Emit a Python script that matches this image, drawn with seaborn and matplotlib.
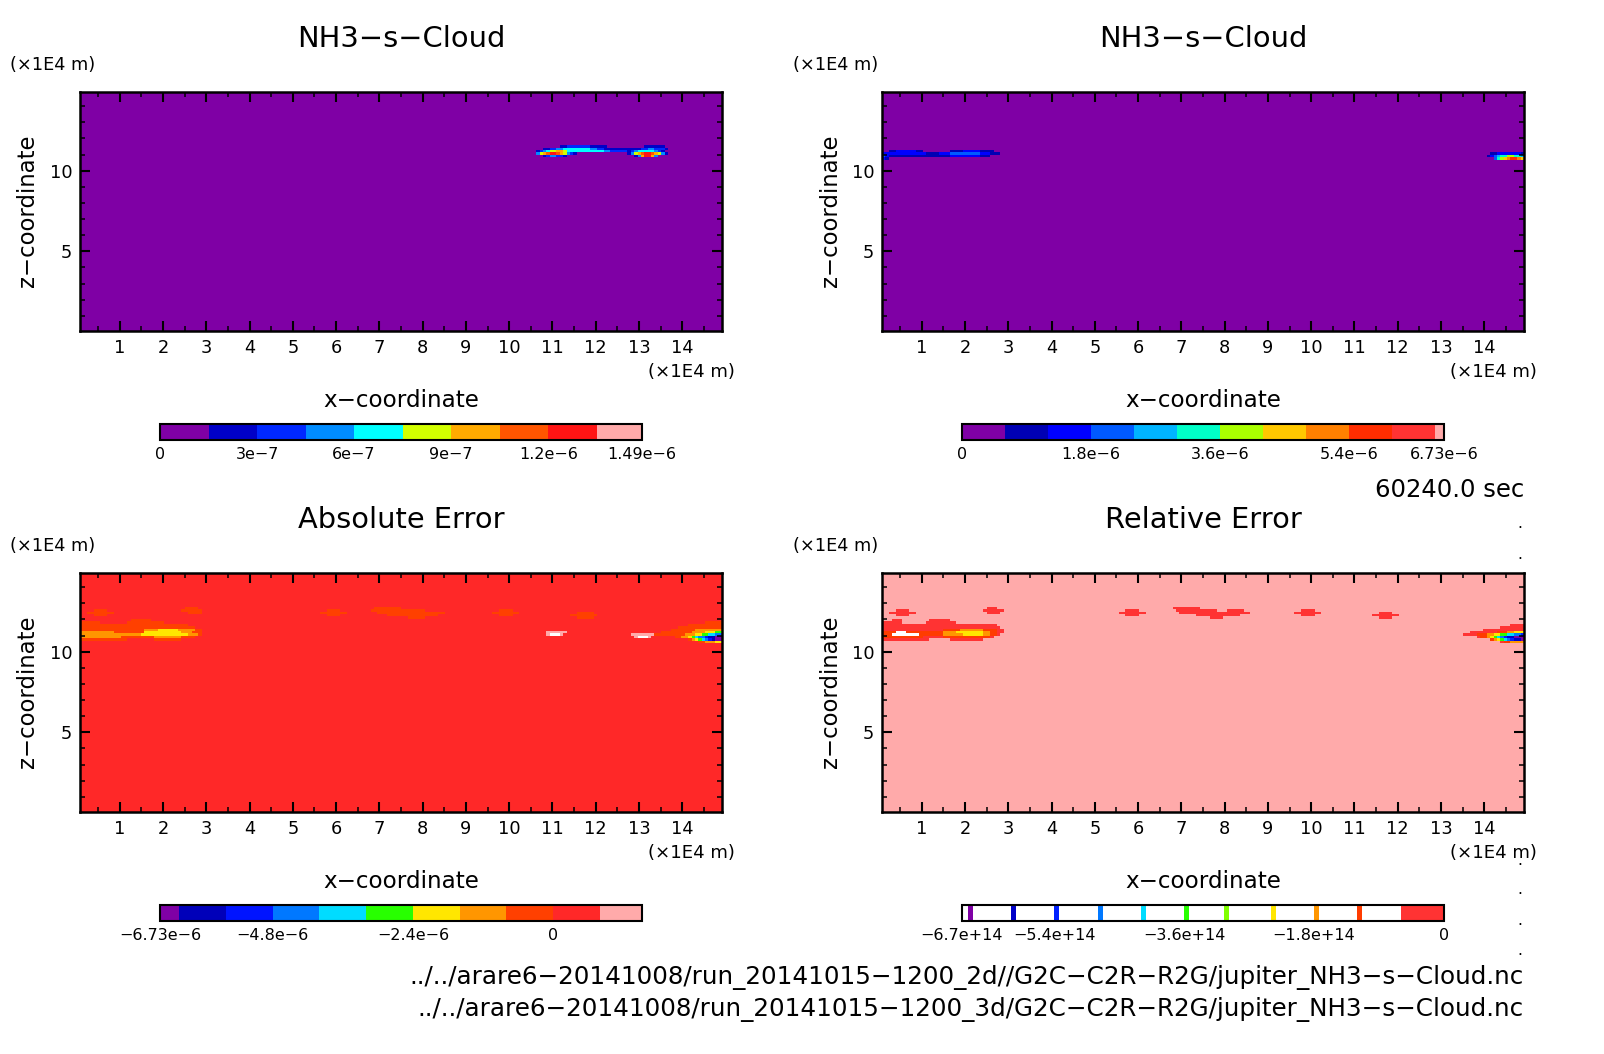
import numpy as np
import seaborn as sns
import matplotlib.pyplot as plt
from matplotlib.colors import ListedColormap, BoundaryNorm

sns.set_theme(style='white')
plt.rcParams['font.family'] = ['DejaVu Sans']

W, H = 1604, 1054

# domain of the model and size of the grid
x_min, x_max = 0.08, 14.92
z_min, z_max = 0.06, 14.88
n_cols, n_rows = 190, 99
x_ticks = list(range(1, 15))
z_ticks = [5, 10]
z_minor = list(range(1, 15))
x_minor = [i + 0.5 for i in range(0, 15)]

titles = ['NH3−s−Cloud', 'NH3−s−Cloud', 'Absolute Error', 'Relative Error']

# contour levels, colours and colourbar labels
levels_2d = [0, 1.5e-7, 3e-7, 4.5e-7, 6e-7, 7.5e-7, 9e-7, 1.05e-6, 1.2e-6, 1.35e-6, 1.49e-6]
colors_2d = ['#7F00A5', '#0000C8', '#0028FF', '#008CFF', '#00FFFF', '#D2FF00',
             '#FFAA00', '#FF5500', '#FF1414', '#FFAAAA']
ticks_2d = [0, 3e-7, 6e-7, 9e-7, 1.2e-6, 1.49e-6]
labels_2d = ['0', '3e−7', '6e−7', '9e−7', '1.2e−6', '1.49e−6']

levels_3d = [0, 6e-7, 1.2e-6, 1.8e-6, 2.4e-6, 3e-6, 3.6e-6, 4.2e-6, 4.8e-6, 5.4e-6, 6e-6, 6.6e-6, 6.73e-6]
colors_3d = ['#7F00A5', '#0000B4', '#0000FF', '#005AFF', '#00B4FF', '#00FFC8',
             '#AAFF00', '#FFC800', '#FF8000', '#FF2D00', '#FF3333', '#FFAAAA']
ticks_3d = [0, 1.8e-6, 3.6e-6, 5.4e-6, 6.73e-6]
labels_3d = ['0', '1.8e−6', '3.6e−6', '5.4e−6', '6.73e−6']

levels_abs = [-6.73e-6, -6.4e-6, -5.6e-6, -4.8e-6, -4e-6, -3.2e-6, -2.4e-6, -1.6e-6, -8e-7, 0, 8e-7, 1.52e-6]
colors_abs = ['#7F00A5', '#0000B9', '#0014FF', '#0078FF', '#00DCFF', '#28FF00',
              '#FFE600', '#FF9600', '#FF4000', '#FF2828', '#FFAAAA']
ticks_abs = [-6.73e-6, -4.8e-6, -2.4e-6, 0]
labels_abs = ['−6.73e−6', '−4.8e−6', '−2.4e−6', '0']

levels_rel = [-6.68e14, -6.6e14, -6.53e14, -6e14, -5.93e14, -5.4e14, -5.33e14, -4.8e14, -4.73e14,
              -4.2e14, -4.13e14, -3.6e14, -3.53e14, -3.05e14, -2.98e14, -2.4e14, -2.33e14,
              -1.8e14, -1.73e14, -1.2e14, -1.13e14, -6e13, 0]
colors_rel = ['white', '#7F00A5', 'white', '#0000C8', 'white', '#0020FF', 'white', '#0078FF',
              'white', '#00DCFF', 'white', '#28FF00', 'white', '#80FF00', 'white', '#FFE600',
              'white', '#FF9600', 'white', '#FF3C00', 'white', '#FF3333']
ticks_rel = [-6.68e14, -5.4e14, -3.6e14, -1.8e14, 0]
labels_rel = ['−6.7e+14', '−5.4e+14', '−3.6e+14', '−1.8e+14', '0']

# cells of each field that differ from the background: (row from top, first column, level codes)
cells_2d = [
    (22, 142, '11222222211111'), (22, 167, '111111'),
    (23, 137, '1122334444444433221111111111'), (23, 165, '122332221'),
    (24, 135, '123455665444444444443322222'), (24, 162, '12344444321'),
    (25, 135, '356788765321'), (25, 162, '135678876531'),
    (26, 137, '1233221'), (26, 164, '1368863'),
]
cells_3d = [
    (24, 2, '1122222211'), (24, 20, '1111222221111'),
    (25, 0, '22222222222221111222333333333222111'),
    (26, 0, '32111111111111111111222222222111'),
    (27, 0, '21'),
    (25, 180, '1122222221'), (26, 179, '12345566554'), (27, 181, '356789987'),
]
cells_abs = [
    (14, 31, '8888'), (15, 4, '8888'), (15, 30, '888888'), (16, 2, '88888888'), (16, 32, '8888'), (17, 4, '8888'),
    (15, 73, '8888'), (16, 71, '88888888'), (17, 73, '8888'),
    (14, 87, '88888888'), (15, 86, '8888888888888888'), (16, 88, '88888888888888888888'),
    (17, 91, '888888888888888'), (18, 97, '88888'),
    (15, 124, '8888'), (16, 122, '88888888'), (17, 124, '8888'),
    (16, 147, '88888'), (17, 145, '88888888'), (18, 147, '88888'),
    (19, 15, '888888'), (20, 0, '888888'), (20, 14, '88888888888'),
    (21, 0, '88888888888888888888888888888888'),
    (22, 0, '8888888888888888888888888888888888'),
    (23, 0, '888888888888888888877776666667777788'),
    (24, 0, '777777777788888888866666666666777888'),
    (25, 0, '777777777777777777666666666666667778'),
    (26, 0, '7777777777778888888888777777778888'),
    (27, 0, '88888888888888'), (27, 22, '88888888'),
    (24, 138, 'aaaaaa'), (25, 138, 'abbba'), (25, 163, 'aaaaaaa'), (26, 164, 'abbba'),
    (20, 185, '88888'), (21, 180, '8888888888'), (22, 177, '8888888888888'),
    (23, 175, '888888877777777'), (24, 172, '888888888777766655'),
    (25, 170, '88888888877766554433'), (26, 176, '88776543321100'),
    (27, 180, '8765432100'), (28, 183, '8877766'),
]
cells_rel = [
    (14, 31, 'lll'), (15, 4, 'llll'), (15, 30, 'llllll'), (16, 2, 'llllllll'), (16, 31, 'llll'), (17, 4, 'llll'),
    (15, 72, 'llll'), (16, 70, 'llllllll'), (17, 72, 'llll'),
    (14, 86, 'llllllll'), (15, 87, 'llllllllllll'), (15, 102, 'lllll'),
    (16, 88, 'lllllllllllllllllllll'), (17, 93, 'lllllllllllll'), (18, 97, 'llll'),
    (15, 124, 'llll'), (16, 122, 'llllllll'), (17, 124, 'llll'),
    (16, 147, 'llll'), (17, 145, 'llllllll'), (18, 147, 'llll'),
    (19, 3, 'lll'), (19, 14, 'llllll'), (20, 0, 'llllll'), (20, 13, 'lllllllll'),
    (21, 0, 'llllllllllllllllllllllllllllllllll'),
    (22, 0, 'lllllllllllllllllllllllllllllllllll'),
    (23, 0, 'lllllllllllllllllljjjjjhhhhhhhjjjjll'),
    (24, 0, 'jjjjkkkjjjjjjjjjjjhhhhffffffffhhjjll'),
    (25, 0, 'jjjkkkkkkkkjjjjjjjhhhhhhffffffhhjjl'),
    (26, 0, 'jjjjjjjjjjjjlllllljjjjjjjjjjjjjjl'),
    (27, 0, 'llllllllllllll'), (27, 20, 'llllllllll'),
    (21, 186, 'llll'), (22, 183, 'lllllll'), (23, 178, 'llllllllllll'),
    (24, 174, 'lllllllljjjhhfff'), (25, 172, 'lllljjjhhffbb9977533'),
    (26, 176, 'ljjhfb97533111'), (27, 180, 'jhfb975331'), (28, 183, 'ljjhhhh'),
]

# file names under the panels, and the loose text of the page
files = ['../../arare6−20141008/run_20141015−1200_2d//G2C−C2R−R2G/jupiter_NH3−s−Cloud.nc',
         '../../arare6−20141008/run_20141015−1200_3d/G2C−C2R−R2G/jupiter_NH3−s−Cloud.nc']
time_label = '60240.0 sec'
unit_label = '(×1E4 m)'

panels = [
    (80, 92, 10, levels_2d, colors_2d, ticks_2d, labels_2d, cells_2d, '0', None),
    (882, 92, 793, levels_3d, colors_3d, ticks_3d, labels_3d, cells_3d, '0', None),
    (80, 573, 10, levels_abs, colors_abs, ticks_abs, labels_abs, cells_abs, '9', 'white'),
    (882, 573, 793, levels_rel, colors_rel, ticks_rel, labels_rel, cells_rel, 'm', '#FFAAAA'),
]


def px_rect(left, top, width, height):
    return [left / W, 1 - (top + height) / H, width / W, height / H]


def build_field(cells, levels, background):
    # level codes -> a value in the middle of each contour band
    mids = [(a + b) / 2 for a, b in zip(levels[:-1], levels[1:])]
    mids.append(levels[-1] + abs(levels[-1] - levels[0]))
    field = np.full((n_rows, n_cols), mids[int(background, 36)], dtype=float)
    for row, col, codes in cells:
        for i, c in enumerate(codes):
            if col + i < n_cols:
                field[row, col + i] = mids[int(c, 36)]
    return field


def to_col(x):
    return (np.asarray(x, dtype=float) - x_min) / (x_max - x_min) * n_cols


def to_row(z):
    return (z_max - np.asarray(z, dtype=float)) / (z_max - z_min) * n_rows


fig = plt.figure(figsize=(W / 100, H / 100), dpi=100)

for (left, top, unit_x, levels, colors, cb_ticks, cb_labels, cells, bg, over), title in zip(panels, titles):
    ax = fig.add_axes(px_rect(left, top, 642, 239))
    cmap = ListedColormap(colors)
    if over:
        cmap.set_over(over)
    norm = BoundaryNorm(levels, len(colors))
    sns.heatmap(build_field(cells, levels, bg), cmap=cmap, norm=norm, cbar=False,
                xticklabels=False, yticklabels=False, ax=ax)
    ax.set_xlim(0, n_cols)
    ax.set_ylim(n_rows, 0)
    ax.set_axisbelow(False)

    for s in ax.spines.values():
        s.set_visible(True)
        s.set_linewidth(1.8)
        s.set_color('black')
        s.set_zorder(5)

    ax.set_xticks(to_col(x_ticks))
    ax.set_xticklabels([str(v) for v in x_ticks], fontsize=12.8)
    ax.set_yticks(to_row(z_ticks))
    ax.set_yticklabels([str(v) for v in z_ticks], fontsize=12.8)
    ax.set_xticks(to_col(x_minor), minor=True)
    ax.set_yticks(to_row(z_minor), minor=True)
    ax.tick_params(which='major', direction='in', length=7.5, width=1.5, color='black',
                   top=True, right=True, bottom=True, left=True, labelcolor='black')
    ax.tick_params(axis='x', which='major', pad=6)
    ax.tick_params(axis='y', which='major', pad=5.5)
    ax.tick_params(which='minor', direction='in', length=3.6, width=1.1, color='black',
                   top=True, right=True, bottom=True, left=True)

    cx = left + 321
    fig.text(cx / W, 1 - (top - 53) / H, title, fontsize=20.8, ha='center', va='center', color='black')
    fig.text(unit_x / W, 1 - (top - 27) / H, unit_label, fontsize=12.8, ha='left', va='center', color='black')
    fig.text((left + 655) / W, 1 - (top + 280) / H, unit_label, fontsize=13.1, ha='right', va='center', color='black')
    fig.text((left - 52) / W, 1 - (top + 119) / H, 'z−coordinate', fontsize=16.4, rotation=90,
             ha='center', va='center', color='black')
    fig.text(cx / W, 1 - (top + 309) / H, 'x−coordinate', fontsize=16.6, ha='center', va='center', color='black')

    cax = fig.add_axes(px_rect(left + 80, top + 332, 482, 16))
    cb = fig.colorbar(ax.collections[0], cax=cax, orientation='horizontal', spacing='proportional', ticks=cb_ticks)
    cb.set_ticklabels(cb_labels)
    cb.ax.tick_params(length=0, labelsize=11.5, pad=5, labelcolor='black')
    cb.ax.minorticks_off()
    cb.outline.set_linewidth(1.5)
    cb.outline.set_edgecolor('black')

fig.text(1524 / W, 1 - 490 / H, time_label, fontsize=17.5, ha='right', va='center', color='black')
fig.text(1524 / W, 1 - 978 / H, files[0], fontsize=17.7, ha='right', va='center', color='black')
fig.text(1524 / W, 1 - 1009 / H, files[1], fontsize=17.7, ha='right', va='center', color='black')
for y in [531, 562, 868, 897, 928, 958]:
    fig.text(1522 / W, 1 - y / H, '.', fontsize=11, ha='right', va='bottom', color='black')

fig.savefig('out.png', dpi=100)
